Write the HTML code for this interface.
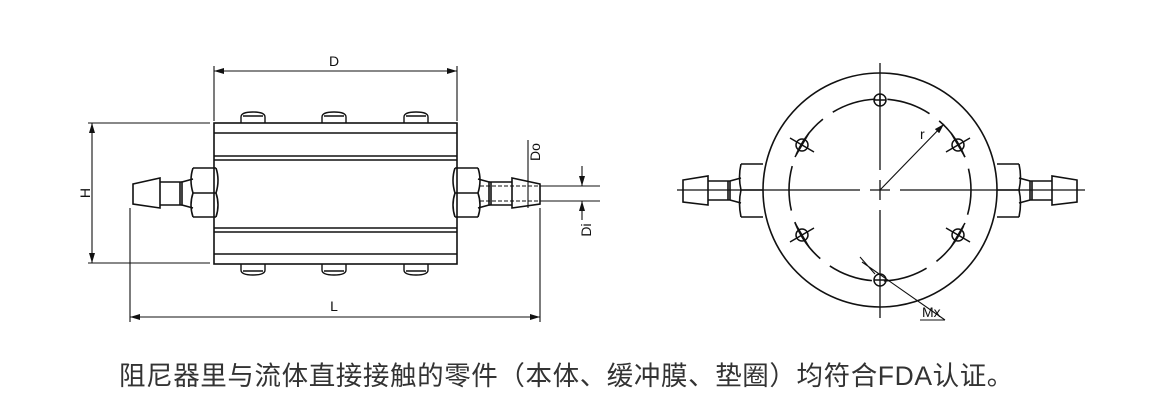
<!DOCTYPE html>
<html><head><meta charset="utf-8"><style>
html,body{margin:0;padding:0;background:#fff;width:1171px;height:417px;overflow:hidden}
svg{position:absolute;left:0;top:0}
.cap{position:absolute;left:119px;top:354px;font-family:"Liberation Sans","Noto Sans CJK SC",sans-serif;font-size:26.5px;color:#333;white-space:nowrap;letter-spacing:0.6px}
</style></head><body>
<svg width="1171" height="417" viewBox="0 0 1171 417" fill="none" stroke="#111" stroke-width="1.6">
<defs><marker id="a" markerWidth="10" markerHeight="6" refX="10" refY="3" orient="auto" markerUnits="userSpaceOnUse"><path d="M0,0 L10,3 L0,6z" fill="#111" stroke="none"/></marker></defs>
<g stroke-width="1.4">
<path d="M241,123 v-6 q0,-5 12,-5 q12,0 12,5 v6"/><path d="M243,116 h20"/>
<path d="M322,123 v-6 q0,-5 12,-5 q12,0 12,5 v6"/><path d="M324,116 h20"/>
<path d="M404,123 v-6 q0,-5 12,-5 q12,0 12,5 v6"/><path d="M406,116 h20"/>
<path d="M241,264 v6 q0,5 12,5 q12,0 12,-5 v-6"/><path d="M243,271 h20"/>
<path d="M322,264 v6 q0,5 12,5 q12,0 12,-5 v-6"/><path d="M324,271 h20"/>
<path d="M404,264 v6 q0,5 12,5 q12,0 12,-5 v-6"/><path d="M406,271 h20"/>
</g>
<rect x="214" y="123" width="243" height="141"/>
<path d="M214,133 H457 M214,156 H457 M214,160 H457 M214,228 H457 M214,232 H457 M214,254 H457"/>
<path d="M193,168 H216 M193,217 H216 M193,193 H216"/>
<path d="M193,168 q-4,12 0,25 q-4,12 0,24" />
<path d="M216,168 q4,12 0,25 q4,12 0,24"/>
<path d="M193,179 L182,182 V205 L193,208"/>
<path d="M180,182 V205 M182,182 H160 M182,205 H160"/>
<path d="M160,178 V208 L133,204 V184 Z"/>
<path d="M455,168 H478 M455,217 H478 M455,193 H478"/>
<path d="M455,168 q-4,12 0,25 q-4,12 0,24"/>
<path d="M478,168 q4,12 0,25 q4,12 0,24"/>
<path d="M478,179 L489,182 V205 L478,208"/>
<path d="M491,182 V205 M489,182 H512 M489,205 H512"/>
<path d="M512,178 V208 L540,204 V184 Z"/>
<path d="M480,186 H540 M480,201 H540" stroke-dasharray="4,2" stroke-width="1.1"/>
<g stroke-width="1.1">
<path d="M214,66 V121 M457,66 V121"/>
<path d="M336,71 H214" marker-end="url(#a)"/><path d="M336,71 H457" marker-end="url(#a)"/>
<path d="M88,123 H210 M88,263 H210"/>
<path d="M92,193 V123" marker-end="url(#a)"/><path d="M92,193 V263" marker-end="url(#a)"/>
<path d="M130,208 V322 M540,208 V322"/>
<path d="M335,317 H130" marker-end="url(#a)"/><path d="M335,317 H540" marker-end="url(#a)"/>
<path d="M528,140 V208"/>
<path d="M540,186 H600 M540,201 H600"/>
<path d="M582,166 V186" marker-end="url(#a)"/><path d="M582,220 V201" marker-end="url(#a)"/>
</g>
<g fill="#111" stroke="none" font-family="Liberation Sans Narrow, Liberation Sans, sans-serif" font-size="14">
<text x="334" y="66" text-anchor="middle">D</text>
<text x="334" y="311" text-anchor="middle">L</text>
<text transform="translate(90,193) rotate(-90)" text-anchor="middle">H</text>
<text transform="translate(540,152) rotate(-90)" text-anchor="middle">Do</text>
<text transform="translate(591,230) rotate(-90)" text-anchor="middle">Di</text>
<text x="920" y="139">r</text>
<text x="922" y="317">Mx</text>
</g>
<circle cx="880" cy="190" r="117"/>
<circle cx="880" cy="190" r="91" stroke-dasharray="45,12" stroke-dashoffset="20"/>
<path d="M880,63 V170 M880,180 V200 M880,210 V318 M677,190 H860 M870,190 H890 M900,190 H1085" stroke-width="1.3"/>
<g stroke-width="1.5">
<circle cx="880" cy="100" r="6"/><circle cx="802" cy="145" r="6"/><circle cx="958" cy="145" r="6"/>
<circle cx="802" cy="235" r="6"/><circle cx="958" cy="235" r="6"/><circle cx="880" cy="280" r="6"/>
<path d="M874,100 h12 M880,94 v12 M790,138 l24,14 M795,157 l14,-24 M970,138 l-24,14 M965,157 l-14,-24 M790,242 l24,-14 M795,223 l14,24 M970,242 l-24,-14 M965,223 l-14,24 M874,280 h12"/>
</g>
<path d="M880,190 L944,124" marker-end="url(#a)" stroke-width="1.1"/>
<path d="M862,262 L945,320 M860,257 L875,274" stroke-width="1.1"/>
<path d="M920,320 H945" stroke-width="1.1"/>
<path d="M741,164 H763 M741,217 H763 M741,190 H763 M741,164 q-3,13 0,26 q-3,13 0,27"/>
<path d="M741,178 L730,181 V200 L741,203 M728,181 V200 M730,181 H708 M730,200 H708 M708,176 V205 L683,202 V180 Z"/>
<path d="M1019,164 H997 M1019,217 H997 M1019,190 H997 M1019,164 q3,13 0,26 q3,13 0,27"/>
<path d="M1019,178 L1030,181 V200 L1019,203 M1032,181 V200 M1030,181 H1052 M1030,200 H1052 M1052,176 V205 L1077,202 V180 Z"/>
</svg>
<div class="cap">阻尼器里与流体直接接触的零件（本体、缓冲膜、垫圈）均符合FDA认证。</div>
</body></html>
